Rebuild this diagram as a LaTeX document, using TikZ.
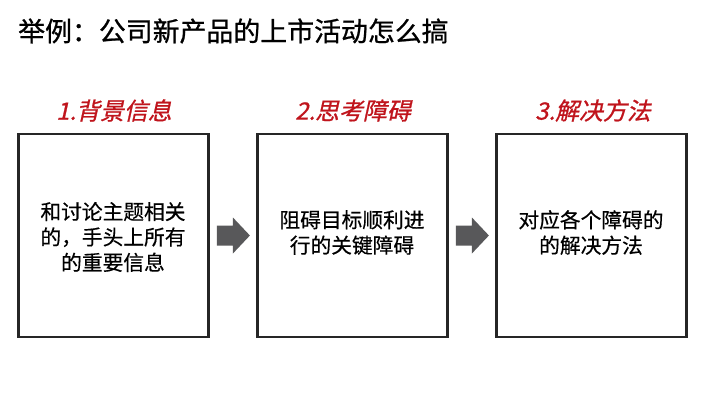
\documentclass[tikz,border=0pt]{standalone}
\usepackage{fontspec}
\setmainfont{Noto Sans CJK SC}
\newfontfamily\cjk[FakeBold=0.4]{Noto Sans CJK SC}
\newfontfamily\cjkslant[FakeSlant=0.22,FakeBold=0.9]{Noto Sans CJK SC}
\newfontfamily\cjktitle[FakeBold=0.8]{Noto Sans CJK SC}
\definecolor{hdred}{HTML}{C0141C}
\definecolor{boxline}{HTML}{262626}
\definecolor{arrgray}{HTML}{58585A}
\tikzset{
  stepbox/.style={draw=boxline, line width=2.8bp, fill=white, minimum width=190bp, minimum height=203bp, inner sep=0pt},
  heading/.style={text=hdred, font=\cjkslant\fontsize{24}{28}\selectfont, inner sep=0pt},
  bodytext/.style={align=center, font=\cjk\fontsize{20.8}{25.5}\selectfont, inner sep=0pt, text=black},
  blockarrow/.style={fill=arrgray, draw=none}
}
\begin{document}
\begin{tikzpicture}[x=1bp, y=-1bp]
\useasboundingbox (0,0) rectangle (720,405);
\fill[white] (0,0) rectangle (720,405);
\node[anchor=west, inner sep=0pt, font=\cjktitle\fontsize{27}{30}\selectfont] (title) at (18,31) {举例：公司新产品的上市活动怎么搞};

\node[stepbox] (b1) at (113.5,235.5) {};
\node[stepbox] (b2) at (352.5,235.5) {};
\node[stepbox] (b3) at (591.5,235.5) {};

\node[heading] (h1) at (114,110.5) {1.背景信息};
\node[heading] (h2) at (353,110.5) {2.思考障碍};
\node[heading] (h3) at (593,110.5) {3.解决方法};

\node[bodytext] (t1) at (113,237) {和讨论主题相关\\的，手头上所有\\的重要信息};
\node[bodytext] (t2) at (352,232.5) {阻碍目标顺利进\\行的关键障碍};
\node[bodytext] (t3) at (591,232.5) {对应各个障碍的\\的解决方法};

\foreach \a/\b [count=\i] in {b1/b2, b2/b3}{
  \path (\a.east) ++(7,0) coordinate (s\i);
  \fill[blockarrow] (s\i) ++(0,-10) -- ++(16,0) -- ++(0,-8) -- ++(17,18) -- ++(-17,18) -- ++(0,-8) -- ++(-16,0) -- cycle;
}
\end{tikzpicture}
\end{document}
